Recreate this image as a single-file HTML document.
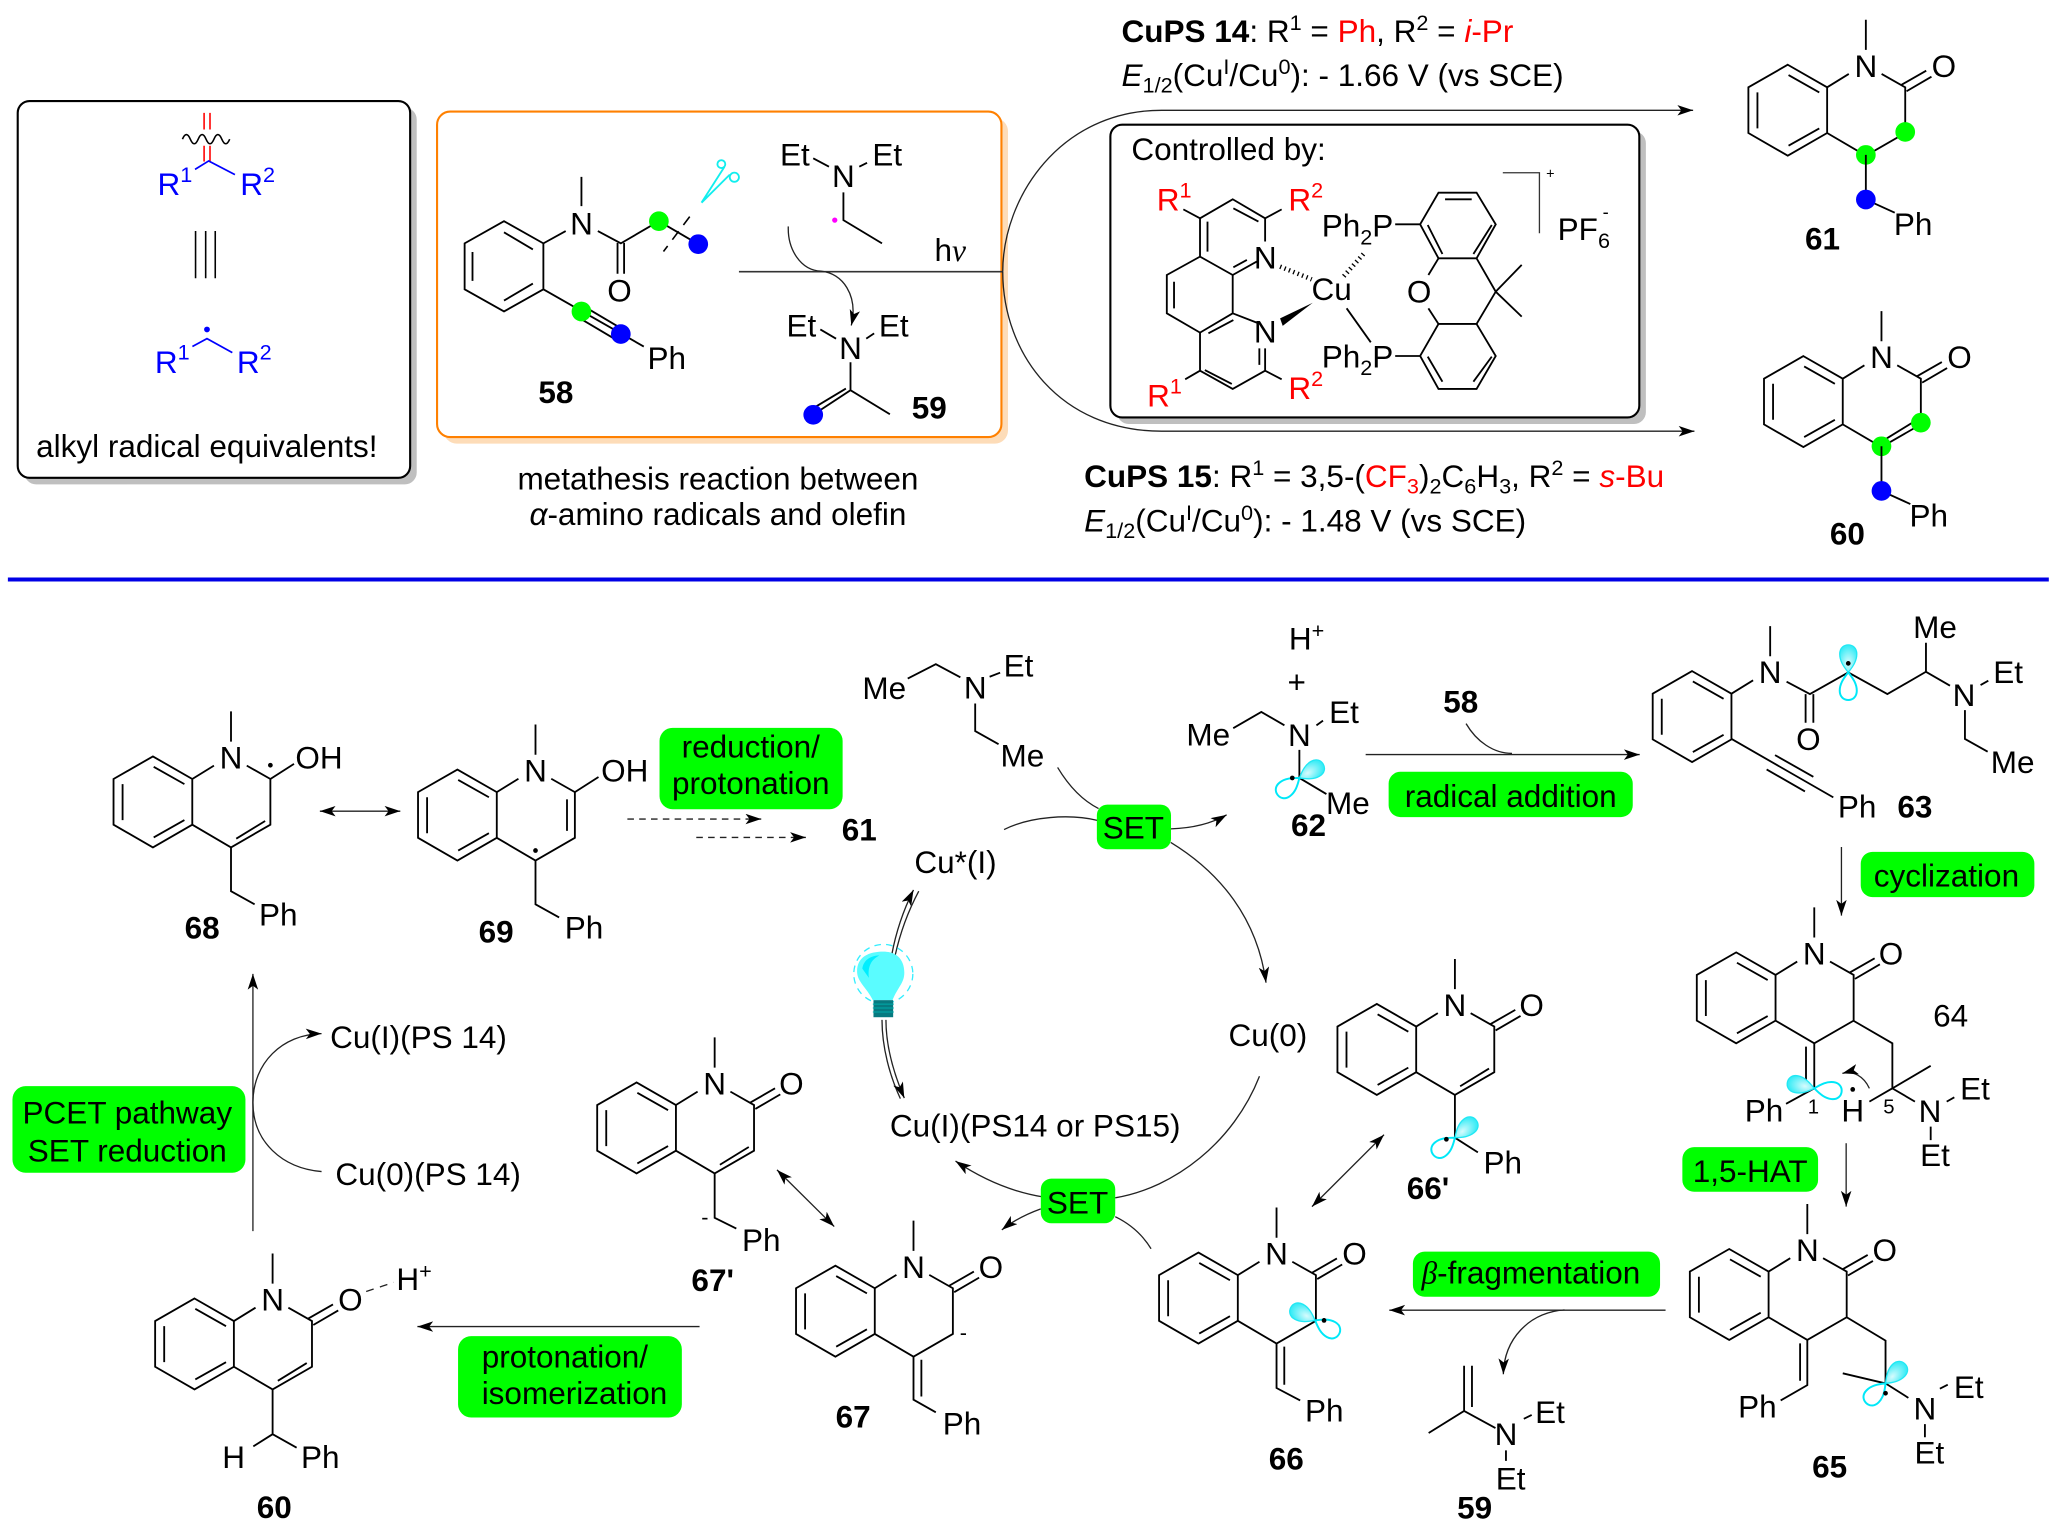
<!DOCTYPE html>
<html><head><meta charset="utf-8"><style>
html,body{margin:0;padding:0;background:#fff}
svg{display:block}
text{font-family:"Liberation Sans",sans-serif;font-size:24px;fill:#000;white-space:pre}
.m{text-anchor:middle}
.b{font-weight:bold}
.bl{fill:#00f}
.r{fill:#f00}
.s{font-size:16.5px}
.k{fill:none;stroke:#000;stroke-width:1.4}
.c{fill:none;stroke:#222;stroke-width:1}
.o1{fill:url(#g);stroke:#20e8f4;stroke-width:1}
.o2{fill:#fff;stroke:#00e8f8;stroke-width:1.5}
</style></head><body>
<svg xmlns="http://www.w3.org/2000/svg" width="2058" height="1537" viewBox="0 0 1568 1171">
<defs>
<radialGradient id="g" cx=".5" cy=".65" r=".6"><stop offset="0" stop-color="#d8fbfd"/><stop offset="1" stop-color="#3cecf6"/></radialGradient>
<marker id="a" markerUnits="userSpaceOnUse" markerWidth="14" markerHeight="10" refX="12" refY="4" orient="auto-start-reverse"><path d="M0 0L12 4L0 8L3 4Z" fill="#000"/></marker>
<g id="benz" class="k">
<path d="M-59.500 -.7L-29.500 16.500V51.300L-59.500 68.600L-89.500 51.300V16.500Z"/>
<path d="M-58.900 7.200L-35.500 20.400M-35.500 47.800L-58.900 61M-82.600 47.800V20.400"/>
<path d="M-13 6.300L-29.500 16.500M0 -35V-12"/>
</g>
<g id="core"><use href="#benz"/><path class="k" d="M12 6.300L30 16.500V51.300L0 68.600L-29.500 51.300"/></g>
<path id="co" class="k" d="M27 14.700L46 3.800M31 19.500L50 8.400"/>
<path id="d34" class="k" d="M4 62L26 48.500"/>
<path id="d23" class="k" d="M24 22V46"/>
<path id="l" d="M0 0C-4 -5 -6.500 -9 -6.500 -14C-6.500 -19 -3 -21 0 -21C3 -21 6.500 -19 6.500 -14C6.500 -9 4 -5 0 0Z"/>
</defs>

<!-- left box -->
<rect x="18.500" y="82" width="299" height="287" rx="9" fill="#bfbfbf"/>
<rect x="13.500" y="77" width="299" height="287" rx="9" fill="#fff" stroke="#000" stroke-width="1.6"/>
<path d="M155.500 86V98.600M160 86V98.600M155.500 111V123M160 111V123" stroke="#f00" stroke-width="1.200" fill="none"/>
<path d="M139 106q3 -7 6 0t6 0t6 0t6 0t6 0t6 0" fill="none" stroke="#000" stroke-width="1.200"/>
<path d="M148.600 129L159 122.600L179 133" fill="none" stroke="#00f" stroke-width="1.300"/>
<text x="120" y="148.500" class="bl">R<tspan class="s bl" dy="-10">1</tspan></text>
<text x="183" y="148.500" class="bl">R<tspan class="s bl" dy="-10">2</tspan></text>
<path d="M149 176V212M156.700 176V212M164 176V212" stroke="#000" stroke-width="1.200"/>
<circle cx="157.700" cy="251" r="2.200" fill="#00f"/>
<path d="M146.600 264L157.700 258L177 268.600" fill="none" stroke="#00f" stroke-width="1.300"/>
<text x="118" y="284" class="bl">R<tspan class="s bl" dy="-10">1</tspan></text>
<text x="180.500" y="284" class="bl">R<tspan class="s bl" dy="-10">2</tspan></text>
<text x="27.500" y="348">alkyl radical equivalents!</text>

<!-- orange box -->
<rect x="338" y="90" width="430" height="248" rx="10" fill="#fddcb8"/>
<rect x="333" y="85" width="430" height="248" rx="10" fill="#fff" stroke="#ff8000" stroke-width="1.600"/>
<g class="k">
<path d="M414 185.400L384 168.500L354 185.400V220.400L384 237.300L414 220.400Z"/>
<path d="M384 177L406 190M406 216L384 229M360 214V192"/>
<path d="M414 185.400L431 176M443 134.700V157M455.500 176L473 185.400L502 168.500L532 186M470.500 185V208.500M475.500 185V208.500"/>
<path d="M414 220.400L490.500 264M446 234L473 250M441 242L468 258"/>
</g>
<path d="M525.500 165L505.500 191.600" stroke="#000" stroke-width="1.200" stroke-dasharray="8 6" fill="none"/>
<circle cx="502" cy="168.500" r="7.500" fill="#0f0"/><circle cx="532" cy="186" r="7.500" fill="#00f"/>
<circle cx="443" cy="237.300" r="7.500" fill="#0f0"/><circle cx="473" cy="254.500" r="7.500" fill="#00f"/>
<g fill="none" stroke="#1ee" stroke-width="1.400"><path d="M534.500 154.400L552 127M534.500 154.400L556 133"/><circle cx="549.600" cy="125" r="3"/><circle cx="559.500" cy="135" r="3.500"/></g>
<text x="443" y="178.500" class="m">N</text>
<text x="472" y="229.500" class="m">O</text>
<text x="508" y="281" class="m">Ph</text>
<text x="423.500" y="307" class="m b">58</text>
<text x="605.600" y="126" class="m">Et</text><text x="642.600" y="142.500" class="m">N</text><text x="676" y="126" class="m">Et</text>
<path class="k" d="M619.600 120.600L631.600 127M654.700 127L660.600 124M642.600 146.500V167.700L672 185.400"/>
<circle cx="636" cy="167.700" r="2" fill="#f0f"/>
<line x1="563" y1="207" x2="764" y2="207" stroke="#333" stroke-width="1.200"/>
<text x="724" y="199" class="m">h<tspan font-family="Liberation Serif" font-style="italic">ν</tspan></text>
<path class="c" marker-end="url(#a)" d="M600.600 172.500C600 190 610 206 625.600 206.600C642 208 654 225 648.600 248"/>
<text x="610.600" y="256.500" class="m">Et</text><text x="648" y="273.500" class="m">N</text><text x="681" y="256.500" class="m">Et</text>
<path class="k" d="M625 251L637 258M660 258L666 254M648 276V297.300L678 315.600L648 297.300L619.600 316M644.500 296L619.600 311"/>
<circle cx="619.600" cy="316" r="7.500" fill="#00f"/>
<text x="708" y="319" class="m b">59</text>
<text x="547" y="373" class="m">metathesis reaction between</text>
<text x="547" y="400" class="m"><tspan font-style="italic">α</tspan>-amino radicals and olefin</text>

<!-- big arc arrows -->
<path class="c" marker-end="url(#a)" d="M764 207C764 150 808 84 885 84H1290"/>
<path class="c" marker-end="url(#a)" d="M764 207C764 270 808 328.500 885 328.500H1291"/>
<!-- complex box -->
<rect x="851" y="100" width="403" height="223" rx="9" fill="#bfbfbf"/>
<rect x="846" y="95" width="403" height="223" rx="9" fill="#fff" stroke="#000" stroke-width="1.600"/>
<text x="862" y="122">Controlled by:</text>
<g class="k">
<path d="M901.600 159.500L914.300 166.300L939.200 151.800L963.900 166.300V184M963.900 166.300L976.500 159.500M914.300 166.300V195.500L939.200 209.500L957.500 199.300M920 168.800V191.700M939.700 158.700L958.800 168.800M939.700 203.600L950 198"/>
<path d="M914.300 195.500L889 209.500V238.700L914.300 253.400L939.200 238.700V209.500M894.500 214.600V234.900M939.200 238.700L957.500 245.800M920.700 253.900L939.700 243.800"/>
<path d="M914.300 253.400V282.400L939.200 296.300L963.900 282.400V265.400M903 289L914.300 282.400M963.900 282.400L976.500 289M918 281.900L938.500 292.500M959.500 265.400V278"/>
<path d="M1063 170.900H1082L1096 146.800H1125L1139.600 170.900L1125 196.800H1096L1082 170.900M1101 151.800H1121.300M1087.800 171.400L1099 193.500M1122.600 193.500L1136.600 171.400"/>
<path d="M1096 196.800L1088.300 209.500M1088.300 234.900L1096 246.800H1125L1139.600 222.200L1125 196.800M1139.600 222.200L1159.400 201.800M1139.600 222.200L1159.400 241.200"/>
<path d="M1063 271.200H1082L1096 246.800M1125 246.800L1139.600 271.200L1125 296.300H1096L1082 271.200M1087.800 271.700L1099 290.800M1122.600 290.800L1136.600 271.700"/>
<path d="M1026 234.900L1044.400 260.800"/>
</g>
<path d="M1145 131.600H1172.900V177.700" fill="none" stroke="#333" stroke-width="1"/>
<path d="M975.300 203.100L999.400 212.800" stroke="#000" stroke-width="3.500" stroke-dasharray="1 2.600" fill="none"/>
<path d="M1038.800 193.500L1023.500 210.800" stroke="#000" stroke-width="3.500" stroke-dasharray="1 2.600" fill="none"/>
<path d="M1000.200 230.600L975.300 242.500L977.300 248.300Z" fill="#000"/>
<text x="1014.600" y="228.500" class="m">Cu</text>
<text x="964" y="204.500" class="m">N</text><text x="964" y="261" class="m">N</text>
<text x="1081.200" y="230.500" class="m">O</text>
<text x="881.300" y="160.500" class="r">R<tspan class="s r" dy="-10">1</tspan></text>
<text x="981.600" y="160.500" class="r">R<tspan class="s r" dy="-10">2</tspan></text>
<text x="874" y="309.800" class="r">R<tspan class="s r" dy="-10">1</tspan></text>
<text x="981.600" y="304" class="r">R<tspan class="s r" dy="-10">2</tspan></text>
<text x="1007" y="180.300">Ph<tspan class="s" dy="6">2</tspan><tspan dy="-6">P</tspan></text>
<text x="1007" y="279.800">Ph<tspan class="s" dy="6">2</tspan><tspan dy="-6">P</tspan></text>
<text x="1178" y="136" style="font-size:11px">+</text>
<text x="1186.800" y="183">PF<tspan class="s" dy="6">6</tspan></text>
<text x="1221" y="166" style="font-size:14px">-</text>

<text x="854.500" y="32"><tspan class="b">CuPS 14</tspan>: R<tspan class="s" dy="-9">1</tspan><tspan dy="9"> = </tspan><tspan class="r">Ph</tspan>, R<tspan class="s" dy="-9">2</tspan><tspan dy="9"> = </tspan><tspan class="r" font-style="italic">i</tspan><tspan class="r">-Pr</tspan></text>
<text x="854.500" y="65.500"><tspan font-style="italic">E</tspan><tspan class="s" dy="5">1/2</tspan><tspan dy="-5">(Cu</tspan><tspan class="s" dy="-9">I</tspan><tspan dy="9">/Cu</tspan><tspan class="s" dy="-9">0</tspan><tspan dy="9">): - 1.66 V (vs SCE)</tspan></text>
<text x="826" y="371"><tspan class="b">CuPS 15</tspan>: R<tspan class="s" dy="-9">1</tspan><tspan dy="9"> = 3,5-(</tspan><tspan class="r">CF</tspan><tspan class="s r" dy="5">3</tspan><tspan dy="-5">)</tspan><tspan class="s" dy="5">2</tspan><tspan dy="-5">C</tspan><tspan class="s" dy="5">6</tspan><tspan dy="-5">H</tspan><tspan class="s" dy="5">3</tspan><tspan dy="-5">, R</tspan><tspan class="s" dy="-9">2</tspan><tspan dy="9"> = </tspan><tspan class="r" font-style="italic">s</tspan><tspan class="r">-Bu</tspan></text>
<text x="826" y="405"><tspan font-style="italic">E</tspan><tspan class="s" dy="5">1/2</tspan><tspan dy="-5">(Cu</tspan><tspan class="s" dy="-9">I</tspan><tspan dy="9">/Cu</tspan><tspan class="s" dy="-9">0</tspan><tspan dy="9">): - 1.48 V (vs SCE)</tspan></text>

<!-- 61 -->
<g transform="translate(1421.600 50)"><use href="#core"/><use href="#co"/>
<circle cx="30" cy="50.500" r="7.500" fill="#0f0"/><circle cx="0" cy="68" r="7.500" fill="#0f0"/>
<path class="k" d="M0 68V102L22 112"/><circle cx="0" cy="102" r="7.500" fill="#00f"/>
<text x="0" y="8.500" class="m">N</text><text x="59.500" y="8.500" class="m">O</text><text x="36" y="129" class="m">Ph</text><text x="-33" y="140" class="m b">61</text></g>
<!-- 60 top -->
<g transform="translate(1433.500 272)"><use href="#core"/><use href="#co"/><use href="#d34"/>
<circle cx="30" cy="50" r="7.500" fill="#0f0"/><circle cx="0" cy="68" r="7.500" fill="#0f0"/>
<path class="k" d="M0 68V102L22 112"/><circle cx="0" cy="102" r="7.500" fill="#00f"/>
<text x="0" y="8.500" class="m">N</text><text x="59.500" y="8.500" class="m">O</text><text x="36" y="129" class="m">Ph</text><text x="-26" y="143" class="m b">60</text></g>

<line x1="6" y1="441.500" x2="1561" y2="441.500" stroke="#0000e6" stroke-width="3"/>

<!-- 68 -->
<g transform="translate(176 577)"><use href="#core"/><use href="#d34"/>
<path class="k" d="M30 16.500L48 5M0 68V102L18 112"/><circle cx="30" cy="6" r="1.800" fill="#000"/>
<text x="0" y="8.500" class="m">N</text><text x="67" y="8.500" class="m">OH</text><text x="36" y="128" class="m">Ph</text><text x="-22" y="138" class="m b">68</text></g>
<!-- 69 -->
<g transform="translate(408 587)"><use href="#core"/><use href="#d23"/>
<path class="k" d="M30 16.500L48 5M0 68V102L18 112"/><circle cx="0" cy="61" r="1.800" fill="#000"/>
<text x="0" y="8.500" class="m">N</text><text x="68" y="8.500" class="m">OH</text><text x="37" y="128" class="m">Ph</text><text x="-30" y="131" class="m b">69</text></g>
<path class="c" marker-start="url(#a)" marker-end="url(#a)" d="M243.700 618H305"/>
<path class="c" stroke-dasharray="5 4" marker-end="url(#a)" d="M478 624H580"/>
<path class="c" stroke-dasharray="5 4" marker-end="url(#a)" d="M530.500 638H614"/>
<rect x="502.500" y="554.500" width="139.500" height="62" rx="10" fill="#0f0"/>
<text x="572" y="577" class="m">reduction/</text><text x="572" y="605" class="m">protonation</text>
<text x="654.700" y="640.500" class="m b">61</text>

<!-- amine -->
<text x="673.700" y="532.500" class="m">Me</text><text x="743" y="532" class="m">N</text><text x="776" y="515.500" class="m">Et</text><text x="779" y="584" class="m">Me</text>
<path class="k" d="M691.600 517L713 506L731.700 516M754 515.600L762 512.500M743 536V557L760.800 567"/>
<!-- cycle -->
<text x="728" y="665" class="m">Cu*(I)</text>
<text x="966" y="797" class="m">Cu(0)</text>
<text x="678" y="866">Cu(I)(PS14 or PS15)</text>
<path class="c" d="M765 632C785 622 815 620 836 625"/>
<path class="c" d="M805.800 584.700C815 600 825 610 837 616"/>
<path class="c" marker-end="url(#a)" d="M892 631.500C908 631 922 628 934.600 620.800"/>
<path class="c" marker-end="url(#a)" d="M892 641.800C930 665 958 700 964.600 748.700"/>
<path class="c" d="M959.600 820C940 870 895 905 849.700 912.600"/>
<path class="c" marker-end="url(#a)" d="M795 912C770 908 748 898 728 884.600"/>
<path class="c" marker-end="url(#a)" d="M793 921C782 925 772 930 763.300 937"/>
<path class="c" d="M849.700 927C860 932 870 940 877 951.400"/>
<rect x="835.700" y="613" width="56.500" height="34" rx="8" fill="#0f0"/><text x="863.500" y="639" class="m">SET</text>
<rect x="793" y="898" width="56.700" height="34" rx="8" fill="#0f0"/><text x="821" y="924.500" class="m">SET</text>
<!-- bulb arrows -->
<path class="c" marker-end="url(#a)" d="M679.400 727.600C683 708 689 692 696 678"/>
<path class="c" d="M682 728C686 710 692 694 700 679"/>
<path class="c" d="M672 777C672 798 678 820 686 837"/>
<path class="c" marker-end="url(#a)" d="M675 777C675 798 681 818 689 836.600"/>
<circle cx="673" cy="742" r="22.500" fill="none" stroke="#33eeff" stroke-width="1" stroke-dasharray="5 4"/>
<path d="M665 762C660 752 653 748 653 740C653 729 662 725 673 725C684 725 689 732 689 741C689 749 684 752 680 762Z" fill="#5afcff"/>
<path d="M657 738C658 731 664 728 670 728C664 731 661 736 662 745Z" fill="#00eeff"/>
<rect x="665.500" y="762" width="15" height="13" fill="#067a80"/>
<path d="M665 765H681M665 768H681M665 771H681" stroke="#0aa" stroke-width=".8"/>

<!-- 62 -->
<text x="982" y="495">H<tspan class="s" dy="-9">+</tspan></text>
<text x="988" y="528" class="m">+</text>
<text x="920.600" y="568" class="m">Me</text><text x="990" y="568.500" class="m">N</text><text x="1024" y="551" class="m">Et</text><text x="1027" y="620" class="m">Me</text>
<path class="k" d="M939.600 554.800L961 542.400L978.600 552.600M1003 552.600L1008 549M990 571.300V592.700L1010.600 605"/>
<use href="#l" class="o1" transform="translate(990 592.700) rotate(60)"/>
<use href="#l" class="o2" transform="translate(990 592.700) rotate(232)"/>
<circle cx="984.600" cy="592.700" r="1.800" fill="#000"/>
<text x="997" y="637" class="m b">62</text>
<!-- add arrow -->
<text x="1113" y="543" class="m b">58</text>
<path class="c" d="M1117 551.300C1125 565 1138 574 1152 574"/>
<path class="c" marker-end="url(#a)" d="M1040.500 574.900H1249.300"/>
<rect x="1058" y="588" width="186" height="34.500" rx="9" fill="#0f0"/><text x="1151" y="615" class="m">radical addition</text>

<!-- 63 -->
<g transform="translate(1348.700 512)"><use href="#benz"/></g>
<g class="k"><path d="M1361.200 519.400L1379 528.800L1408.200 512.300L1438 528.800L1467.400 511.800V489.700M1467.400 511.800L1485.700 522.400M1509 521.900L1514.900 518.600M1375.700 528.800V550.600M1381.600 528.800V550.600M1497.100 541V563L1514.400 572.700"/>
<path d="M1319.300 563L1396.800 607.500M1352.400 575.300L1381.600 591.800M1346 586.200L1375.200 603"/></g>
<use href="#l" class="o1" transform="translate(1408.200 512.300)"/>
<use href="#l" class="o2" transform="translate(1408.200 512.300) rotate(180)"/>
<circle cx="1408.200" cy="505.400" r="1.800" fill="#000"/>
<text x="1348.700" y="520.500" class="m">N</text><text x="1377.800" y="571.500" class="m">O</text><text x="1474.300" y="486" class="m">Me</text><text x="1496.400" y="537.700" class="m">N</text><text x="1530" y="520.500" class="m">Et</text><text x="1533.400" y="589" class="m">Me</text><text x="1415" y="622.700" class="m">Ph</text><text x="1459" y="622.700" class="m b">63</text>

<path class="c" marker-end="url(#a)" d="M1403 645.300V697.600"/>
<rect x="1417.700" y="649" width="132.300" height="34.500" rx="9" fill="#0f0"/><text x="1483" y="675.500" class="m">cyclization</text>

<!-- 64 -->
<g transform="translate(1382.300 726.300)"><use href="#core"/><use href="#co"/></g>
<path class="k" d="M1382.300 794.900V829.200L1360.800 841M1376 797.400V822.800"/>
<path class="k" d="M1412 777.600L1441.800 794.900V829.200L1471 812M1441.800 829.200L1459 839.300M1441.800 829.200L1424.300 839.300M1483.200 839.300L1489 836M1471 858.400V868.600"/>
<use href="#l" class="o1" transform="translate(1382.300 829.200) rotate(-77)"/>
<use href="#l" class="o2" transform="translate(1382.300 829.200) rotate(97)"/>
<text x="1382.300" y="734.800" class="m">N</text><text x="1440.800" y="734.800" class="m">O</text>
<text x="1486.200" y="782" class="m">64</text>
<text x="1344" y="854.600" class="m">Ph</text><text x="1411.600" y="854.600" class="m">H</text><circle cx="1411.600" cy="830" r="1.800" fill="#000"/>
<text x="1381.600" y="848.500" class="m" style="font-size:15.500px">1</text><text x="1439.200" y="848.500" class="m" style="font-size:15.500px">5</text>
<path class="c" marker-end="url(#a)" d="M1424.300 829.200C1420 820 1412 815.500 1403.700 817.800"/>
<text x="1470.500" y="855" class="m">N</text><text x="1504.800" y="837.500" class="m">Et</text><text x="1474.300" y="888.500" class="m">Et</text>

<rect x="1281.800" y="874" width="103.400" height="34" rx="9" fill="#0f0"/><text x="1333.500" y="900.500" class="m">1,5-HAT</text>
<path class="c" marker-end="url(#a)" d="M1406.600 871V919.300"/>

<!-- 65 -->
<g transform="translate(1377 952.300)"><use href="#core"/><use href="#co"/></g>
<path class="k" d="M1377 1020.900V1055.300L1356.700 1067M1371.500 1023.500V1052M1407 1003.600L1436.600 1021.400V1054L1404 1046.300M1436.600 1054L1454 1065M1478 1058L1484 1055M1466.600 1085V1095"/>
<use href="#l" class="o1" transform="translate(1436.600 1054) rotate(45)"/>
<use href="#l" class="o2" transform="translate(1436.600 1054) rotate(225)"/>
<circle cx="1436.600" cy="1061.500" r="1.800" fill="#000"/>
<text x="1377" y="960.800" class="m">N</text><text x="1436" y="960.800" class="m">O</text>
<text x="1339" y="1080" class="m">Ph</text><text x="1466.600" y="1081.500" class="m">N</text><text x="1500" y="1065" class="m">Et</text><text x="1470" y="1115" class="m">Et</text>
<text x="1394" y="1125.500" class="m b">65</text>

<!-- beta -->
<rect x="1076.500" y="953.600" width="188.300" height="34.400" rx="9" fill="#0f0"/>
<text x="1083" y="978"><tspan font-style="italic" font-family="Liberation Serif">β</tspan>-fragmentation</text>
<path class="c" marker-end="url(#a)" d="M1269 998.200H1058.500"/>
<path class="c" marker-end="url(#a)" d="M1192 998C1165 1000 1146 1020 1145.400 1047"/>
<!-- 59 bottom -->
<path class="k" d="M1115.500 1040.500V1075M1121.500 1040.500V1072M1088.500 1091.800L1115.500 1075L1139.400 1088M1161 1081L1167 1078M1147.400 1105V1113"/>
<text x="1147.400" y="1101" class="m">N</text><text x="1181" y="1084" class="m">Et</text><text x="1151" y="1135" class="m">Et</text>
<text x="1123.500" y="1157" class="m b">59</text>

<!-- 66' -->
<g transform="translate(1108.500 765.600)"><use href="#core"/><use href="#co"/><use href="#d34"/></g>
<path class="k" d="M1108.500 834V866.800L1126 878"/>
<use href="#l" class="o1" transform="translate(1108.500 866.800) rotate(50)"/>
<use href="#l" class="o2" transform="translate(1108.500 866.800) rotate(232)"/>
<circle cx="1102" cy="868" r="1.800" fill="#000"/>
<text x="1108.500" y="774" class="m">N</text><text x="1167" y="774" class="m">O</text><text x="1145" y="894" class="m">Ph</text><text x="1088" y="913.500" class="m b">66'</text>
<path class="c" marker-start="url(#a)" marker-end="url(#a)" d="M1054.500 864.500L999.600 919.300"/>

<!-- 66 -->
<g transform="translate(972.600 955)"><use href="#core"/><use href="#co"/></g>
<path class="k" d="M972.600 1023.600V1057.500L990.600 1067M978.500 1026V1055"/>
<use href="#l" class="o1" transform="translate(1002 1006) rotate(-62)"/>
<use href="#l" class="o2" transform="translate(1002 1006) rotate(120)"/>
<circle cx="1008.800" cy="1006" r="1.800" fill="#000"/>
<text x="972.600" y="963.500" class="m">N</text><text x="1032" y="963.500" class="m">O</text><text x="1009" y="1083" class="m">Ph</text><text x="980" y="1119.500" class="m b">66</text>

<!-- 67' -->
<g transform="translate(544.500 825.400)"><use href="#core"/><use href="#co"/><use href="#d34"/></g>
<path class="k" d="M544.500 894V927.800L561 936"/>
<text x="544.500" y="834" class="m">N</text><text x="603" y="834" class="m">O</text><text x="580" y="953" class="m">Ph</text><text x="537" y="933" class="m s">-</text><text x="543" y="983.500" class="m b">67'</text>
<path class="c" marker-start="url(#a)" marker-end="url(#a)" d="M592 891.300L635.600 934.500"/>

<!-- 67 -->
<g transform="translate(696 965)"><use href="#core"/><use href="#co"/></g>
<path class="k" d="M696 1033.600V1066.400L713 1076M702 1036V1064"/>
<text x="696" y="973.500" class="m">N</text><text x="755" y="973.500" class="m">O</text><text x="733" y="1093" class="m">Ph</text><text x="734" y="1021" class="m s">-</text><text x="650" y="1087.500" class="m b">67</text>

<!-- 60 bottom -->
<g transform="translate(207.700 990)"><use href="#core"/><use href="#co"/><use href="#d34"/></g>
<path class="k" d="M207.700 1058.600V1092.700L193 1102M207.700 1092.700L226 1103"/>
<path class="c" stroke-dasharray="6 5" d="M279 984L300 977"/>
<text x="207.700" y="998.500" class="m">N</text><text x="267" y="998.500" class="m">O</text><text x="302" y="983">H<tspan class="s" dy="-9">+</tspan></text><text x="178" y="1118.500" class="m">H</text><text x="244" y="1118.500" class="m">Ph</text><text x="209" y="1156.500" class="m b">60</text>
<path class="c" stroke="#333" marker-end="url(#a)" d="M533 1010.700H318"/>
<rect x="349" y="1018" width="170.500" height="62" rx="10" fill="#0f0"/>
<text x="367" y="1042">protonation/</text><text x="367" y="1069.500">isomerization</text>

<!-- left arrow -->
<path class="c" marker-end="url(#a)" d="M192.700 938V742"/>
<path class="c" d="M245 892.600C215 890 192.700 870 192.700 840"/>
<path class="c" marker-end="url(#a)" d="M192.700 840C192.700 810 215 788 245 787.500"/>
<text x="251.500" y="798.500">Cu(I)(PS 14)</text>
<text x="255.500" y="903">Cu(0)(PS 14)</text>
<rect x="9.500" y="827.500" width="177.500" height="66" rx="10" fill="#0f0"/>
<text x="97" y="856" class="m">PCET pathway</text><text x="97" y="885" class="m">SET reduction</text>
</svg>
</body></html>
